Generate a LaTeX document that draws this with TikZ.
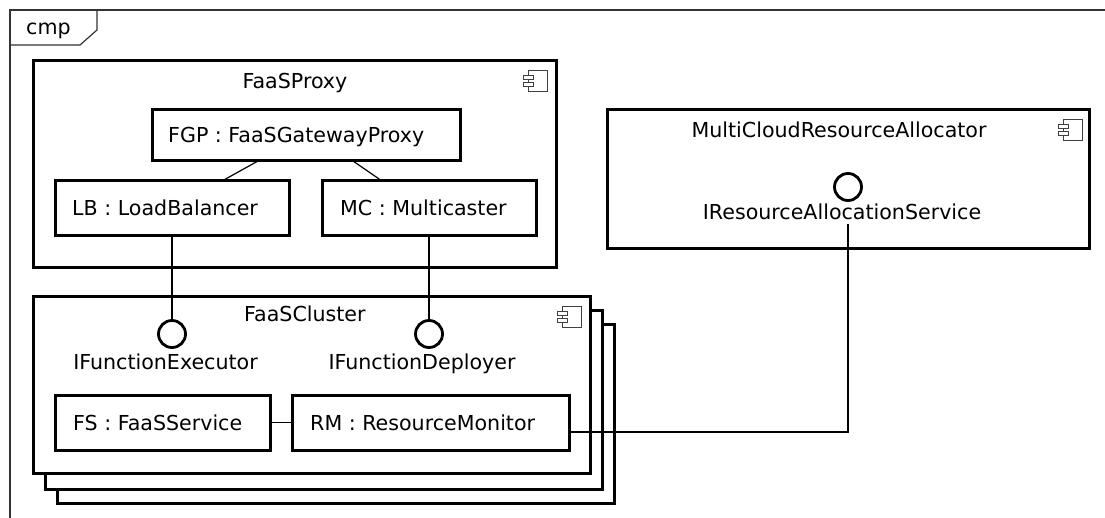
\documentclass[tikz,border=0pt]{standalone}
\usepackage{fontspec}
\setmainfont{DejaVu Sans}
\usetikzlibrary{calc}
\tikzset{
  box/.style={draw, line width=3pt, fill=white, inner sep=0pt, outer sep=0pt, anchor=north west},
  lbl/.style={inner sep=0pt, font=\fontsize{20.6}{23}\selectfont},
  iface/.style={draw, circle, line width=2.8pt, minimum size=27pt, inner sep=0pt, outer sep=0pt},
  conn/.style={line width=1.2pt},
  frameline/.style={line width=1.2pt, black!80},
  icon/.pic={
    \draw[line width=1pt, black!75, fill=white] (0,0) rectangle (19,21);
    \draw[line width=1pt, black!75, fill=white] (-5,4.5) rectangle (5,8.5);
    \draw[line width=1pt, black!75, fill=white] (-5,12) rectangle (5,16);
  }
}
\begin{document}
\begin{tikzpicture}[x=1pt,y=-1pt]
\useasboundingbox (0,0) rectangle (1105,518);
% frame
\draw[frameline] (10,518) -- (10,10) -- (1105,10);
\draw[frameline] (10,45) -- (80,45) -- (97,30) -- (97,10);
\node[lbl, anchor=base west] (cmp) at (26,35) {cmp};

% FaaSProxy
\node[box, minimum width=523pt, minimum height=207pt] (proxy) at (33,61) {};
\node[lbl, anchor=base] (proxyt) at (295,89) {FaaSProxy};
\pic at (528,71) {icon};
\node[box, minimum width=308pt, minimum height=51pt] (fgp) at (152,110) {};
\node[lbl, anchor=base west] (fgpt) at (168,143) {FGP : FaaSGatewayProxy};
\node[box, minimum width=234pt, minimum height=55pt] (lb) at (55,181) {};
\node[lbl, anchor=base west] (lbt) at (72,216) {LB : LoadBalancer};
\node[box, minimum width=214pt, minimum height=55pt] (mc) at (322,181) {};
\node[lbl, anchor=base west] (mct) at (340,216) {MC : Multicaster};

% MultiCloudResourceAllocator
\node[box, minimum width=482pt, minimum height=139pt] (mcra) at (607,110) {};
\node[lbl, anchor=base] (mcrat) at (839,138) {MultiCloudResourceAllocator};
\pic at (1063,120) {icon};
\node[iface] (iras) at (848,187) {};
\node[lbl, anchor=base] (irast) at (842,220) {IResourceAllocationService};
\coordinate (irasend) at (848,224);

% FaaSCluster stack
\node[box, minimum width=557pt, minimum height=178pt] (c3) at (57,325) {};
\node[box, minimum width=557pt, minimum height=178pt] (c2) at (45,311) {};
\node[box, minimum width=557pt, minimum height=176pt] (c1) at (33,297) {};
\node[lbl, anchor=base west] (c1t) at (244,322) {FaaSCluster};
\pic at (562,307) {icon};
\node[iface] (ife) at (172,334) {};
\node[lbl, anchor=base] (ifet) at (165.5,370) {IFunctionExecutor};
\node[iface] (ifd) at (429,334) {};
\node[lbl, anchor=base] (ifdt) at (422,370) {IFunctionDeployer};
\node[box, minimum width=215pt, minimum height=55pt] (fs) at (55,395) {};
\node[lbl, anchor=base west] (fst) at (73,430) {FS : FaaSService};
\node[box, minimum width=277pt, minimum height=55pt] (rm) at (292,395) {};
\node[lbl, anchor=base west] (rmt) at (310,430) {RM : ResourceMonitor};

% connectors
\draw[conn] ($(fgp.south west)+(106,0)$) -- ($(lb.north west)+(167,0)$);
\draw[conn] ($(fgp.south west)+(201,0)$) -- ($(mc.north west)+(60,0)$);
\draw[conn] (lb.south) -- (ife.north);
\draw[conn] (mc.south) -- (ifd.north);
\draw[conn] (fs.east) -- (rm.west);
\draw[conn] ($(rm.east)+(0,9.5)$) -| (irasend);
\end{tikzpicture}
\end{document}
